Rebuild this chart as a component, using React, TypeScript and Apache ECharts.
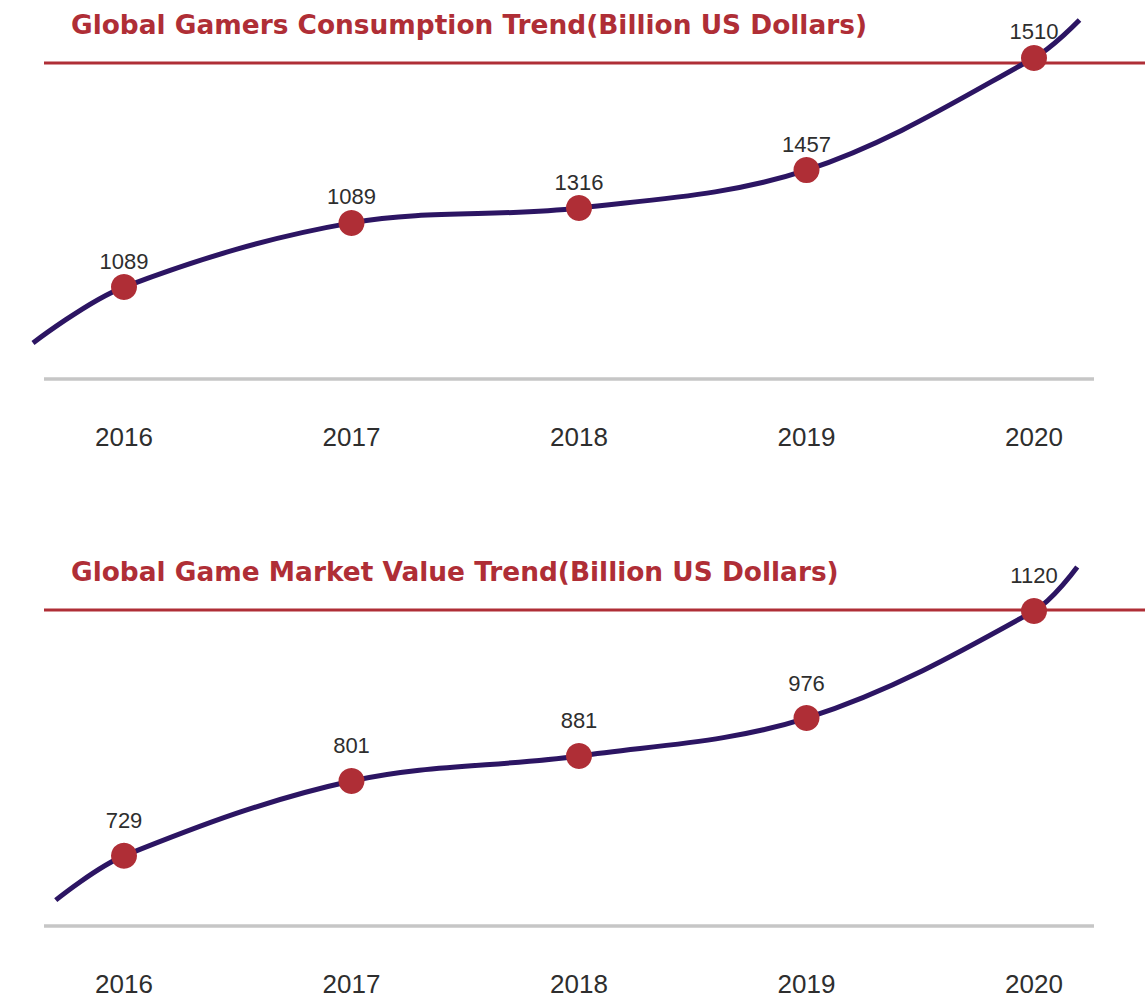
import React, { useEffect, useRef } from "react";
import * as echarts from "echarts";

// ---- data ----
const years = ["2016", "2017", "2018", "2019", "2020"];
const yearPositions = [0, 1, 2, 3, 4];

const consumptionTitle = "Global Gamers Consumption Trend(Billion US Dollars)";
const consumptionValues = [1089, 1089, 1316, 1457, 1510]; // labels shown
// height of each marker on the decorative curve, in % of the panel (baseline = 0, red rule = 100)
const consumptionHeights = [29.1, 49.4, 54.1, 66.1, 101.6];
const consumptionLeadIn = [-0.4, 11.4]; // [position, height] where the curve starts
const consumptionLeadOut = [4.2, 113.6]; // where the curve ends

const marketTitle = "Global Game Market Value Trend(Billion US Dollars)";
const marketValues = [729, 801, 881, 976, 1120];
const marketHeights = [22.2, 45.9, 53.8, 65.8, 99.7];
const marketLeadIn = [-0.3, 8.2];
const marketLeadOut = [4.19, 113.6];

const RED = "#AF2E36";
const PURPLE = "#2C1563";
const GRAY = "#C6C6C6";
const TEXT = "#2E2E2E";

// axis extents (position units / % of panel)
const X_MIN = -0.45;
const X_MAX = 4.25;
const Y_MAX = 115;

export default function App() {
  const ref = useRef<HTMLDivElement>(null);

  useEffect(() => {
    if (!ref.current) return;
    const chart = echarts.init(ref.current, undefined, { renderer: "svg" });

    const step = 227.5; // px per year
    const x0 = 124; // px of 2016
    const pxPerPct = 3.16;

    const panels = [
      {
        title: consumptionTitle,
        values: consumptionValues,
        heights: consumptionHeights,
        leadIn: consumptionLeadIn,
        leadOut: consumptionLeadOut,
        base: 379,
        labelDist: 2,
      },
      {
        title: marketTitle,
        values: marketValues,
        heights: marketHeights,
        leadIn: marketLeadIn,
        leadOut: marketLeadOut,
        base: 926,
        labelDist: 11,
      },
    ];

    const gridLeft = x0 + X_MIN * step;
    const gridRight = 1145 - (x0 + X_MAX * step);
    const gridHeight = Y_MAX * pxPerPct;

    const grid = panels.map((p) => ({
      left: gridLeft,
      right: gridRight,
      top: p.base - gridHeight,
      height: gridHeight,
    }));
    const xAxis = panels.map((p, i) => ({
      type: "value",
      gridIndex: i,
      min: X_MIN,
      max: X_MAX,
      axisLine: { show: false },
      axisTick: { show: false },
      splitLine: { show: false },
      axisLabel: {
        customValues: yearPositions,
        formatter: (v: number) => years[yearPositions.indexOf(Math.round(v))] ?? "",
        fontSize: 26,
        lineHeight: 22,
        color: TEXT,
        fontFamily: "Liberation Sans",
        margin: 47,
      },
    }));
    const yAxis = panels.map((p, i) => ({ type: "value", gridIndex: i, min: 0, max: Y_MAX, show: false }));

    const series: any[] = [];
    panels.forEach((p, i) => {
      const pts = p.heights.map((h, k) => [yearPositions[k], h]);
      series.push({
        type: "line",
        xAxisIndex: i,
        yAxisIndex: i,
        smooth: 0.35,
        clip: false,
        showSymbol: false,
        silent: true,
        lineStyle: { width: 5, color: PURPLE, cap: "butt" },
        data: [p.leadIn, ...pts, p.leadOut],
        z: 2,
      });
      series.push({
        type: "scatter",
        xAxisIndex: i,
        yAxisIndex: i,
        clip: false,
        symbol: "circle",
        symbolSize: 26,
        itemStyle: { color: RED, opacity: 1 },
        label: {
          show: true,
          position: "top",
          distance: p.labelDist,
          fontSize: 22,
          color: TEXT,
          fontFamily: "Liberation Sans",
          formatter: (d: any) => String(p.values[d.dataIndex]),
        },
        data: pts,
        z: 3,
      });
    });

    const graphic: any[] = [];
    panels.forEach((p) => {
      const top = p.base - 100 * pxPerPct;
      graphic.push({
        type: "line",
        z: 0,
        shape: { x1: 44, y1: top, x2: 1145, y2: top },
        style: { stroke: RED, lineWidth: 3 },
      });
      graphic.push({
        type: "line",
        z: 0,
        shape: { x1: 44, y1: p.base, x2: 1094, y2: p.base },
        style: { stroke: GRAY, lineWidth: 3.5 },
      });
      graphic.push({
        type: "text",
        z: 5,
        x: 71,
        y: top - 39,
        style: {
          text: p.title,
          fill: RED,
          font: "bold 26.4px 'DejaVu Sans'",
          verticalAlign: "middle",
          align: "left",
        },
      });
    });

    chart.setOption({
      animation: false,
      backgroundColor: "#ffffff",
      grid,
      xAxis,
      yAxis,
      series,
      graphic,
    });

    return () => chart.dispose();
  }, []);

  return (
    <div
      ref={ref}
      style={{ position: "fixed", left: 0, top: 0, width: 1145, height: 998, background: "#fff" }}
    />
  );
}
